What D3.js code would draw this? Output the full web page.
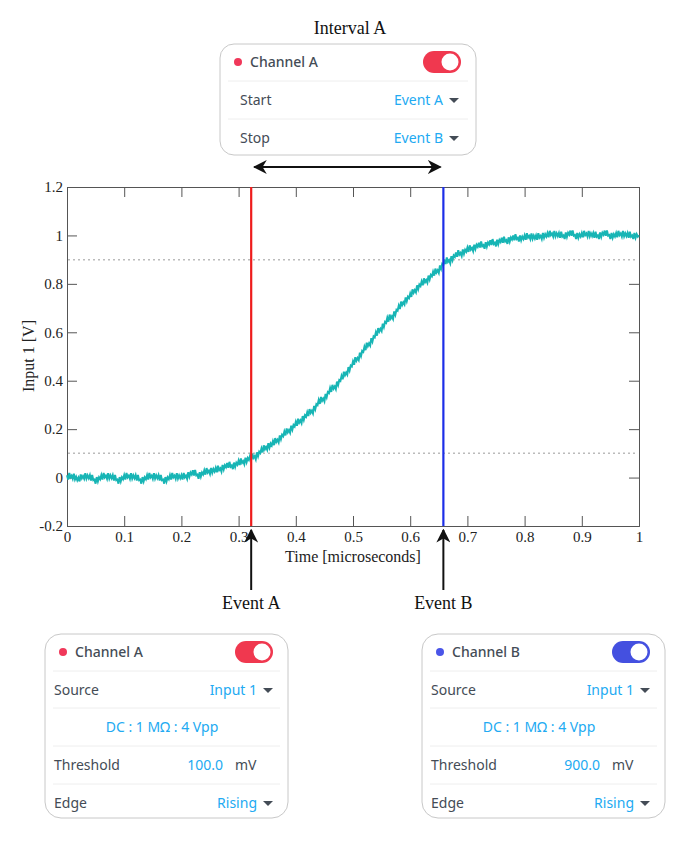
<!DOCTYPE html>
<html lang="en">
<head>
<meta charset="UTF-8">
<script src="https://d3js.org/d3.v7.min.js"></script>
<style>
  body { margin: 0; background: #fff; }
  svg text { font-family: "Noto Sans", sans-serif; }
  .serif { font-family: "Liberation Serif", serif !important; }
</style>
</head>
<body>
<script>
// signal values, every 0.01 us
var times = d3.range(0, 101).map(function (i) { return i / 100; });
var volts = [
  0.00, 0.01, -0.01, 0.01, 0.00, -0.01, 0.00, 0.01, 0.00, -0.01,
  0.00, 0.01, 0.00, -0.01, 0.00, 0.01, 0.00, -0.01, 0.00, 0.01,
  0.00, 0.01, 0.02, 0.01, 0.02, 0.03, 0.03, 0.04, 0.05, 0.05,
  0.06, 0.07, 0.08, 0.09, 0.11, 0.13, 0.14, 0.16, 0.18, 0.20,
  0.22, 0.24, 0.26, 0.28, 0.31, 0.33, 0.36, 0.38, 0.41, 0.44,
  0.47, 0.50, 0.53, 0.56, 0.59, 0.62, 0.65, 0.67, 0.70, 0.73,
  0.75, 0.78, 0.80, 0.82, 0.84, 0.86, 0.89, 0.90, 0.92, 0.93,
  0.94, 0.95, 0.96, 0.96, 0.97, 0.97, 0.98, 0.98, 0.99, 0.99,
  0.99, 1.00, 0.99, 1.00, 1.00, 1.01, 1.00, 1.00, 1.01, 1.00,
  1.00, 1.01, 1.00, 1.00, 1.01, 1.00, 1.00, 1.01, 1.00, 1.00, 1.00
];
var jitter = [0.01, -0.01, 0.015, -0.005, 0.0, -0.015, 0.01, -0.01, 0.005, -0.005];
var xTicks = [0, 0.1, 0.2, 0.3, 0.4, 0.5, 0.6, 0.7, 0.8, 0.9, 1];
var yTicks = [-0.2, 0, 0.2, 0.4, 0.6, 0.8, 1, 1.2];
var thresholds = [0.1, 0.9];
var events = [{ name: "Event A", t: 0.322, color: "#ee1c1c" }, { name: "Event B", t: 0.658, color: "#1c2ee8" }];

var topRows = [["Start", "Event A"], ["Stop", "Event B"]];
var panels = [
  { x: 45, title: "Channel A", dot: "#f0385a", toggle: "#f0384f", threshold: "100.0" },
  { x: 422, title: "Channel B", dot: "#4a55e8", toggle: "#4450e0", threshold: "900.0" }
];

var W = 700, H = 842;
var svg = d3.select("body").append("svg").attr("width", W).attr("height", H);

var x = d3.scaleLinear().domain([0, 1]).range([67, 639]);
var y = d3.scaleLinear().domain([-0.2, 1.2]).range([526, 187]);
var blue = "#22aaf2", grey = "#444c56";
var fmt = function (d) { return String(+d.toFixed(1)); };

// axes with inward ticks
svg.append("g").attr("transform", "translate(0,526)")
  .call(d3.axisBottom(x).tickValues(xTicks).tickSize(-10).tickPadding(5).tickFormat(fmt));
svg.append("g").attr("transform", "translate(0,187)")
  .call(d3.axisTop(x).tickValues(xTicks).tickSize(-10).tickFormat(""));
svg.append("g").attr("transform", "translate(67,0)")
  .call(d3.axisLeft(y).tickValues(yTicks).tickSize(-10).tickPadding(4).tickFormat(fmt));
svg.append("g").attr("transform", "translate(639,0)")
  .call(d3.axisRight(y).tickValues(yTicks).tickSize(-10).tickFormat(""));
svg.selectAll(".domain, .tick line").attr("stroke", "#555");
svg.selectAll(".tick text").attr("class", "serif").attr("font-size", 15).attr("fill", "#222");

svg.selectAll(".thr").data(thresholds).join("line")
  .attr("x1", x(0) + 1).attr("x2", x(1) - 1).attr("y1", y).attr("y2", y)
  .attr("stroke", "#bbb").attr("stroke-width", 1.5).attr("stroke-dasharray", "2,3");

// fine signal with small noise between read values
var fine = [];
times.forEach(function (t, i) {
  if (i === times.length - 1) { fine.push([t, volts[i]]); return; }
  for (var k = 0; k < 5; k++) {
    var v = volts[i] + (volts[i + 1] - volts[i]) * k / 5;
    fine.push([t + k * 0.002, v + jitter[(i * 5 + k) % 10]]);
  }
});
svg.append("path").datum(fine)
  .attr("d", d3.line().x(function (d) { return x(d[0]); }).y(function (d) { return y(d[1]); }))
  .attr("fill", "none").attr("stroke", "#17b5b5").attr("stroke-width", 2);

svg.selectAll(".ev").data(events).join("line")
  .attr("x1", function (d) { return x(d.t); }).attr("x2", function (d) { return x(d.t); })
  .attr("y1", 187).attr("y2", 526).attr("stroke", function (d) { return d.color; }).attr("stroke-width", 2.2);

svg.append("text").attr("class", "serif").attr("x", 353).attr("y", 562).attr("text-anchor", "middle")
  .attr("font-size", 16).attr("fill", "#222").text("Time [microseconds]");
svg.append("text").attr("class", "serif").attr("transform", "translate(34,356) rotate(-90)")
  .attr("text-anchor", "middle").attr("font-size", 16).attr("fill", "#222").text("Input 1 [V]");

// arrows
var defs = svg.append("defs");
defs.append("marker").attr("id", "ah").attr("viewBox", "0 0 10 10").attr("refX", 9).attr("refY", 5)
  .attr("markerWidth", 7).attr("markerHeight", 7).attr("orient", "auto-start-reverse")
  .append("path").attr("d", "M0,0 L10,5 L0,10 L3,5 Z").attr("fill", "#111");
svg.selectAll(".evarrow").data(events).join("line")
  .attr("x1", function (d) { return x(d.t); }).attr("x2", function (d) { return x(d.t); })
  .attr("y1", 590).attr("y2", 530).attr("stroke", "#111").attr("stroke-width", 2).attr("marker-end", "url(#ah)");
svg.selectAll(".evlabel").data(events).join("text").attr("class", "serif")
  .attr("x", function (d) { return x(d.t); }).attr("y", 609).attr("text-anchor", "middle")
  .attr("font-size", 18).attr("fill", "#111").text(function (d) { return d.name; });
svg.append("line").attr("x1", x(events[0].t) + 3).attr("x2", x(events[1].t) - 3).attr("y1", 167).attr("y2", 167)
  .attr("stroke", "#111").attr("stroke-width", 2)
  .attr("marker-start", "url(#ah)").attr("marker-end", "url(#ah)");
svg.append("text").attr("class", "serif").attr("x", 350).attr("y", 34).attr("text-anchor", "middle")
  .attr("font-size", 18).attr("fill", "#111").text("Interval A");

function caret(g, cx, cy) {
  g.append("path").attr("d", "M" + (cx - 5) + "," + (cy - 2) + " L" + (cx + 5) + "," + (cy - 2) + " L" + cx + "," + (cy + 3) + " Z")
    .attr("fill", grey);
}
function header(g, x0, w, cy, title, dot, tog) {
  g.append("circle").attr("cx", x0 + 18).attr("cy", cy).attr("r", 4).attr("fill", dot);
  g.append("text").attr("x", x0 + 30).attr("y", cy + 5).attr("font-size", 14).attr("font-weight", 500)
    .attr("fill", grey).text(title);
  g.append("rect").attr("x", x0 + w - 53).attr("y", cy - 11).attr("width", 38).attr("height", 22).attr("rx", 11).attr("fill", tog);
  g.append("circle").attr("cx", x0 + w - 26).attr("cy", cy).attr("r", 8.5).attr("fill", "#fff");
}
function sep(g, x0, w, yy) {
  g.append("line").attr("x1", x0 + 8).attr("x2", x0 + w - 8).attr("y1", yy).attr("y2", yy).attr("stroke", "#eee");
}

// top interval panel
var tp = svg.append("g");
tp.append("rect").attr("x", 220).attr("y", 44).attr("width", 256).attr("height", 111).attr("rx", 14)
  .attr("fill", "#fff").attr("stroke", "#c8c8c8");
header(tp, 220, 256, 62, "Channel A", "#f0385a", "#f0384f");
topRows.forEach(function (r, i) {
  var cy = 100 + i * 38;
  sep(tp, 220, 256, cy - 19);
  tp.append("text").attr("x", 240).attr("y", cy + 5).attr("font-size", 14).attr("fill", grey).text(r[0]);
  tp.append("text").attr("x", 443).attr("y", cy + 5).attr("text-anchor", "end").attr("font-size", 14).attr("fill", blue).text(r[1]);
  caret(tp, 454, cy);
});

// bottom channel panels
panels.forEach(function (p) {
  var g = svg.append("g"), w = 243;
  g.append("rect").attr("x", p.x).attr("y", 634).attr("width", w).attr("height", 184).attr("rx", 16)
    .attr("fill", "#fff").attr("stroke", "#c8c8c8");
  header(g, p.x, w, 652, p.title, p.dot, p.toggle);
  [690, 727, 765, 803].forEach(function (cy) { sep(g, p.x, w, cy - 19); });
  g.append("text").attr("x", p.x + 9).attr("y", 695).attr("font-size", 14).attr("fill", grey).text("Source");
  g.append("text").attr("x", p.x + 212).attr("y", 695).attr("text-anchor", "end").attr("font-size", 14).attr("fill", blue).text("Input 1");
  caret(g, p.x + 223, 690);
  g.append("text").attr("x", p.x + 117).attr("y", 732).attr("text-anchor", "middle").attr("font-size", 14).attr("fill", blue).text("DC : 1 MΩ : 4 Vpp");
  g.append("text").attr("x", p.x + 9).attr("y", 770).attr("font-size", 14).attr("fill", grey).text("Threshold");
  g.append("text").attr("x", p.x + 178).attr("y", 770).attr("text-anchor", "end").attr("font-size", 14).attr("fill", blue).text(p.threshold);
  g.append("text").attr("x", p.x + 190).attr("y", 770).attr("font-size", 14).attr("fill", grey).text("mV");
  g.append("text").attr("x", p.x + 212).attr("y", 808).attr("text-anchor", "end").attr("font-size", 14).attr("fill", blue).text("Rising");
  g.append("text").attr("x", p.x + 9).attr("y", 808).attr("font-size", 14).attr("fill", grey).text("Edge");
  caret(g, p.x + 223, 803);
});
</script>
</body>
</html>
